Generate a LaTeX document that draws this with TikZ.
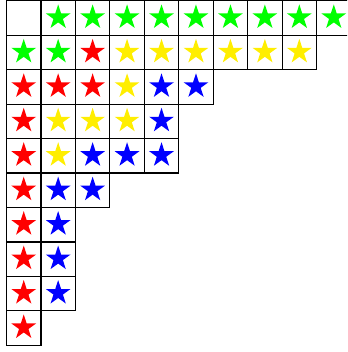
\documentclass[tikz,border=0pt]{standalone}
\usetikzlibrary{shapes.geometric}
\definecolor{sG}{RGB}{0,255,0}
\definecolor{sR}{RGB}{255,0,0}
\definecolor{sY}{RGB}{255,238,0}
\definecolor{sB}{RGB}{0,0,255}
\tikzset{
  cell/.style={draw=black, line width=1.2pt, minimum size=34.45pt, inner sep=0pt, outer sep=0pt},
  starmark/.style={star, star points=5, star point ratio=2.618, minimum size=26pt, inner sep=0pt, draw=none, fill=#1}
}
\begin{document}
\begin{tikzpicture}[x=1pt,y=-1pt]
\useasboundingbox (0,0) rectangle (347,352);
\clip (0,0) rectangle (347,352);
\foreach \r/\cells in {
  0/{e,G,G,G,G,G,G,G,G,G},
  1/{G,G,R,Y,Y,Y,Y,Y,Y},
  2/{R,R,R,Y,B,B},
  3/{R,Y,Y,Y,B},
  4/{R,Y,B,B,B},
  5/{R,B,B},
  6/{R,B},
  7/{R,B},
  8/{R,B},
  9/{R}}{
  \foreach \c [count=\i from 0] in \cells {
    \node[cell] (c\r-\i) at ({6.5+34.45*(\i+0.5)},{0.8+34.45*(\r+0.5)}) {};
    \if\c e\else
      \node[starmark=s\c] (s\r-\i) at ([yshift=0.6pt]c\r-\i.center) {};
    \fi
  }
}
\end{tikzpicture}
\end{document}
